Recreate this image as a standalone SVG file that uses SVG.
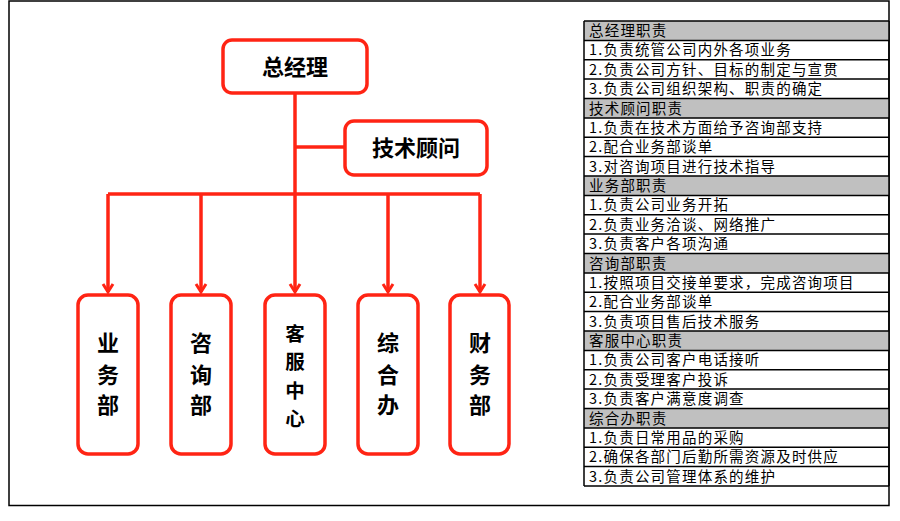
<svg xmlns="http://www.w3.org/2000/svg" width="900" height="521" viewBox="0 0 900 521">
<style>
.box{fill:#fff;stroke:#ff2414;stroke-width:3.5}
.lbl{font-family:"Noto Sans CJK SC","Noto Sans",sans-serif;font-weight:bold;font-size:22px;fill:#000;text-anchor:middle}
.con{fill:none;stroke:#ff2414;stroke-width:3.5}
.row{font-family:"Noto Sans CJK SC","Noto Sans",sans-serif;font-size:14.5px;letter-spacing:1.2px;fill:#000}
.hdr{fill:#c0c0c0}
.grid{fill:none;stroke:#000;stroke-width:1.5}
</style>
<defs>
<marker id="arr" markerUnits="userSpaceOnUse" markerWidth="14" markerHeight="14" refX="0" refY="0" viewBox="-10 -7 12 14" orient="auto">
<path d="M-8,-5 L0,0 L-8,5" fill="none" stroke="#ff2414" stroke-width="3"/>
</marker>
</defs>
<rect x="0" y="0" width="900" height="521" fill="#fff"/>
<rect x="9" y="1" width="880" height="504.5" fill="#fff" stroke="#000" stroke-width="1.5"/>

<g id="connectors">
<path class="con" d="M295,93 V194"/>
<path class="con" d="M295,147 H345" stroke-width="3"/>
<path class="con" d="M108,194 H480" stroke-width="3"/>
<path class="con" d="M108,194 V292" marker-end="url(#arr)"/>
<path class="con" d="M201,194 V292" marker-end="url(#arr)"/>
<path class="con" d="M295,194 V292" marker-end="url(#arr)"/>
<path class="con" d="M388,194 V292" marker-end="url(#arr)"/>
<path class="con" d="M480,194 V292" marker-end="url(#arr)"/>
</g>

<g id="node-gm">
<rect class="box" x="223" y="40" width="144" height="53" rx="9"/>
<text class="lbl" x="295" y="75">总经理</text>
</g>
<g id="node-tech">
<rect class="box" x="345" y="121" width="142" height="54" rx="9"/>
<text class="lbl" x="416" y="156">技术顾问</text>
</g>
<g id="node-sales">
<rect class="box" x="78" y="295" width="60" height="159" rx="10"/>
<text class="lbl" x="108"><tspan x="108" y="351">业</tspan><tspan x="108" y="383">务</tspan><tspan x="108" y="413">部</tspan></text>
</g>
<g id="node-consult">
<rect class="box" x="171" y="295" width="60" height="159" rx="10"/>
<text class="lbl" x="201"><tspan x="201" y="351">咨</tspan><tspan x="201" y="383">询</tspan><tspan x="201" y="413">部</tspan></text>
</g>
<g id="node-service">
<rect class="box" x="265" y="295" width="60" height="159" rx="10"/>
<text class="lbl" x="295" style="font-size:19.5px"><tspan x="295" y="340.5">客</tspan><tspan x="295" y="369">服</tspan><tspan x="295" y="397.5">中</tspan><tspan x="295" y="426">心</tspan></text>
</g>
<g id="node-admin">
<rect class="box" x="358" y="295" width="60" height="159" rx="10"/>
<text class="lbl" x="388"><tspan x="388" y="351">综</tspan><tspan x="388" y="383">合</tspan><tspan x="388" y="413">办</tspan></text>
</g>
<g id="node-finance">
<rect class="box" x="450" y="295" width="59" height="159" rx="10"/>
<text class="lbl" x="480"><tspan x="480" y="351">财</tspan><tspan x="480" y="383">务</tspan><tspan x="480" y="413">部</tspan></text>
</g>

<g id="table">
<rect class="hdr" x="584" y="21" width="305" height="19.4"/>
<rect class="hdr" x="584" y="98.5" width="305" height="19.4"/>
<rect class="hdr" x="584" y="176" width="305" height="19.4"/>
<rect class="hdr" x="584" y="253.5" width="305" height="19.4"/>
<rect class="hdr" x="584" y="331" width="305" height="19.4"/>
<rect class="hdr" x="584" y="408.5" width="305" height="19.4"/>
<path class="grid" d="M584,21 V486 M889,21 V486 M584,21 H889 M584,40.4 H889 M584,59.75 H889 M584,79.1 H889 M584,98.5 H889 M584,117.9 H889 M584,137.25 H889 M584,156.6 H889 M584,176 H889 M584,195.4 H889 M584,214.75 H889 M584,234.1 H889 M584,253.5 H889 M584,272.9 H889 M584,292.25 H889 M584,311.6 H889 M584,331 H889 M584,350.4 H889 M584,369.75 H889 M584,389.1 H889 M584,408.5 H889 M584,427.9 H889 M584,447.25 H889 M584,466.6 H889 M584,486 H889"/>
<text class="row" x="589" y="36">总经理职责</text>
<text class="row" x="589" y="55.4">1.负责统管公司内外各项业务</text>
<text class="row" x="589" y="74.7">2.负责公司方针、目标的制定与宣贯</text>
<text class="row" x="589" y="94.1">3.负责公司组织架构、职责的确定</text>
<text class="row" x="589" y="113.5">技术顾问职责</text>
<text class="row" x="589" y="132.9">1.负责在技术方面给予咨询部支持</text>
<text class="row" x="589" y="152.2">2.配合业务部谈单</text>
<text class="row" x="589" y="171.6">3.对咨询项目进行技术指导</text>
<text class="row" x="589" y="191">业务部职责</text>
<text class="row" x="589" y="210.4">1.负责公司业务开拓</text>
<text class="row" x="589" y="229.7">2.负责业务洽谈、网络推广</text>
<text class="row" x="589" y="249.1">3.负责客户各项沟通</text>
<text class="row" x="589" y="268.5">咨询部职责</text>
<text class="row" x="589" y="287.9">1.按照项目交接单要求，完成咨询项目</text>
<text class="row" x="589" y="307.2">2.配合业务部谈单</text>
<text class="row" x="589" y="326.6">3.负责项目售后技术服务</text>
<text class="row" x="589" y="346">客服中心职责</text>
<text class="row" x="589" y="365.4">1.负责公司客户电话接听</text>
<text class="row" x="589" y="384.7">2.负责受理客户投诉</text>
<text class="row" x="589" y="404.1">3.负责客户满意度调查</text>
<text class="row" x="589" y="423.5">综合办职责</text>
<text class="row" x="589" y="442.9">1.负责日常用品的采购</text>
<text class="row" x="589" y="462.2">2.确保各部门后勤所需资源及时供应</text>
<text class="row" x="589" y="481.6">3.负责公司管理体系的维护</text>
</g>
</svg>
